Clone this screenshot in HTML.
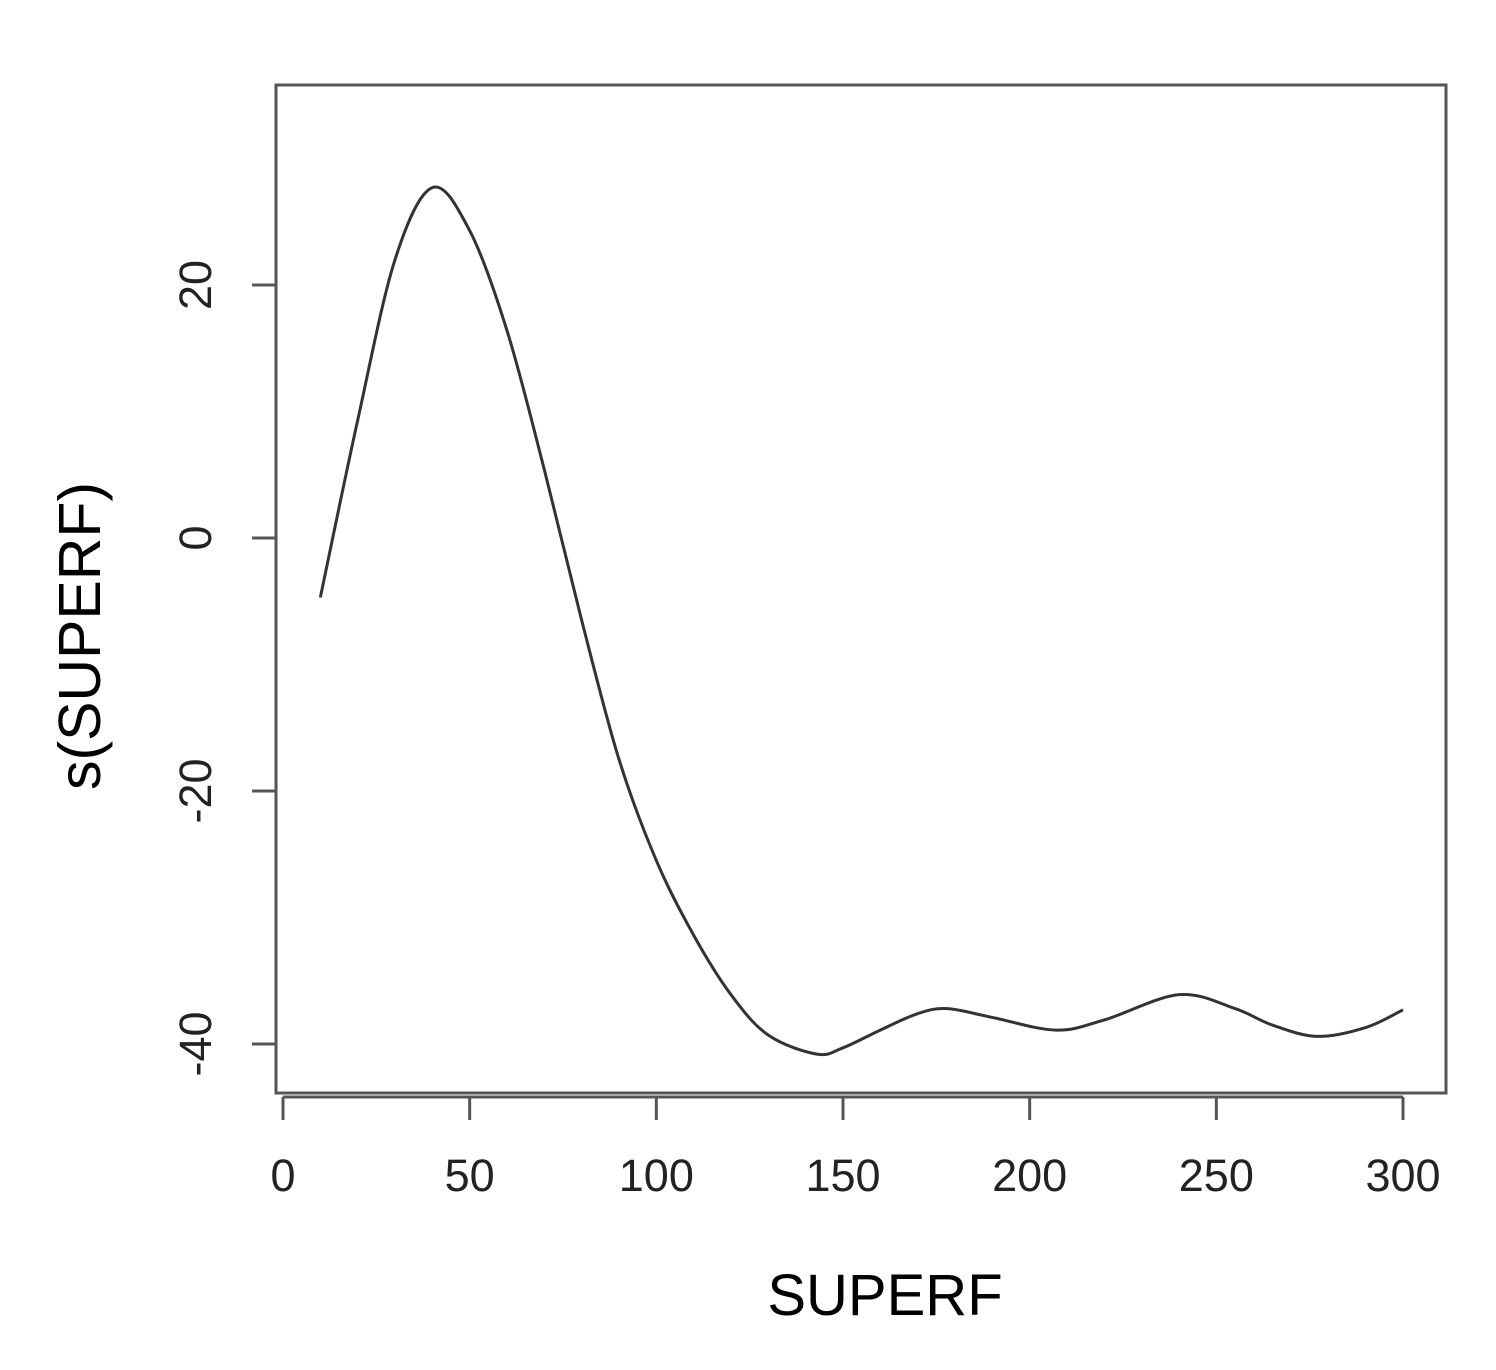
<!DOCTYPE html>
<html><head><meta charset="utf-8"><style>body{margin:0;background:#fff}svg{display:block}</style></head>
<body>
<svg width="1496" height="1370" xmlns="http://www.w3.org/2000/svg" font-family="Liberation Sans, sans-serif">
<rect x="276" y="85" width="1170" height="1008" fill="none" stroke="#555" stroke-width="3"/>
<g id="xax"></g>
<g id="yax"></g>
<path id="curve" fill="none" stroke="#333" stroke-width="3"/>
<text x="885" y="1315" font-size="58" text-anchor="middle">SUPERF</text>
<text transform="translate(100,636) rotate(-90)" font-size="59" text-anchor="middle">s(SUPERF)</text>
</svg>
<script>
const xs=[10,20,30,40,50,60,70,80,90,100,110,120,130,143,150,160,170,178,190,207,220,240,255,265,277,290,300];
const ys=[-4.7,9.3,22.0,27.7,24.3,16.4,5.4,-6.5,-17.5,-25.5,-31.4,-36.1,-39.3,-40.8,-40.3,-38.9,-37.6,-37.2,-37.9,-38.9,-38.1,-36.1,-37.2,-38.5,-39.4,-38.7,-37.3];
const xTicks=[0,50,100,150,200,250,300];
const yTicks=[-40,-20,0,20];
const X=v=>283+v*(1403-283)/300, Y=v=>538-v*12.65;
const NS="http://www.w3.org/2000/svg";
function mk(t,a,p){const e=document.createElementNS(NS,t);for(const k in a)e.setAttribute(k,a[k]);p.appendChild(e);return e;}
const xa=document.getElementById('xax'),ya=document.getElementById('yax');
mk('line',{x1:X(0),x2:X(300),y1:1097,y2:1097,stroke:'#555','stroke-width':3},xa);
xTicks.forEach(t=>{const l=mk('line',{x1:X(t),x2:X(t),y1:1097,y2:1120,stroke:'#555','stroke-width':3},xa);


const tx=mk('text',{x:X(t),y:1191,'font-size':45,'text-anchor':'middle',fill:'#222'},xa);tx.textContent=t;

});
mk('line',{x1:276,x2:276,y1:Y(20),y2:Y(-40),stroke:'#555','stroke-width':3},ya);
yTicks.forEach(t=>{const l=mk('line',{x1:252,x2:276,y1:Y(t),y2:Y(t),stroke:'#555','stroke-width':3},ya);


const tx=mk('text',{transform:`translate(211,${Y(t)}) rotate(-90)`,'font-size':45,'text-anchor':'middle',fill:'#222'},ya);tx.textContent=t;

});
const P=xs.map((x,i)=>[X(x),Y(ys[i])]);
let d=`M${P[0][0]},${P[0][1]}`;
for(let i=0;i<P.length-1;i++){const p0=P[i-1]||P[i],p1=P[i],p2=P[i+1],p3=P[i+2]||p2;
d+=` C${p1[0]+(p2[0]-p0[0])/6},${p1[1]+(p2[1]-p0[1])/6} ${p2[0]-(p3[0]-p1[0])/6},${p2[1]-(p3[1]-p1[1])/6} ${p2[0]},${p2[1]}`;}
document.getElementById('curve').setAttribute('d',d);
</script>
</body></html>
